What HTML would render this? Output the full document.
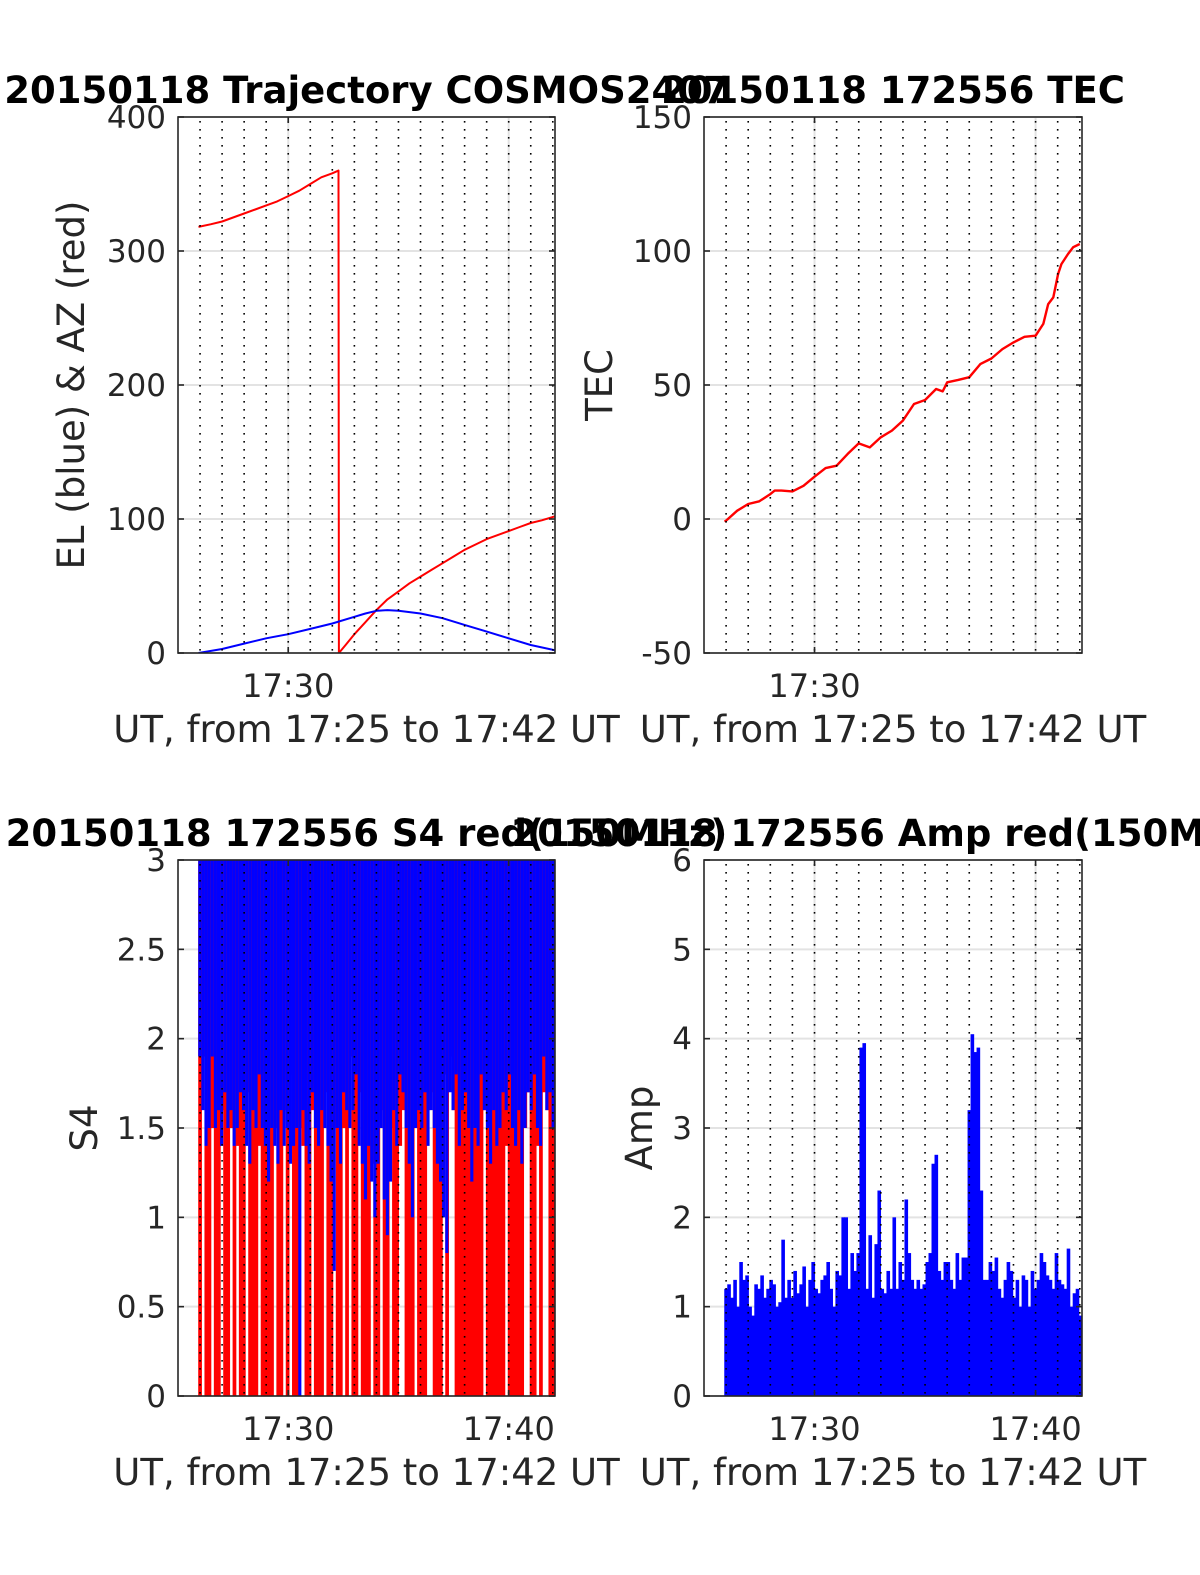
<!DOCTYPE html>
<html><head><meta charset="utf-8">
<style>
html,body{margin:0;padding:0;background:#fff;}
svg{display:block;font-family:"DejaVu Sans","Liberation Sans",sans-serif;}
</style></head>
<body>
<svg id="fig" width="1200" height="1575" viewBox="0 0 1200 1575" xmlns="http://www.w3.org/2000/svg">
<rect x="0" y="0" width="1200" height="1575" fill="#fff"/>
</svg>
<script>
// ---- data (time in minutes after 17:00) ----
const azT = [25.93,26.5,27,27.5,28,28.5,29,29.5,30,30.5,31,31.5,32,32.28,32.3,32.6,33,33.5,34,34.5,35,35.5,36,36.5,37,37.5,38,38.5,39,39.5,40,40.5,41,41.5,42.1];
const azV = [318,320,322,325,328,331,334,337,341,345,350,355,358,360,0,6,14,23,32,40,46,52,57,62,67,72,77,81,85,88,91,94,97,99,102];
const elT = [25.93,27,28,29,30,31,32,33,33.5,34,34.5,35,35.5,36,37,38,39,40,41,42.1];
const elV = [0,3,7,11,14,18,22,27,29.5,31.5,32,31.5,30.5,29.5,26,21,16,11,6,2];
const tecT = [25.93,26,26.5,27,27.5,28,28.2,28.5,29,29.5,30,30.5,31,31.5,32,32.5,33,33.5,34,34.5,35,35.5,35.8,36,36.5,37,37.5,38,38.5,39,39.5,40,40.35,40.57,40.8,41.02,41.17,41.47,41.7,42.0];
const tecV = [-1,-0.6,3.1,5.6,6.6,9.3,10.6,10.6,10.3,12.4,15.8,19,19.9,24.3,28.2,26.7,30.5,33,36.7,42.9,44.4,48.5,47.6,51,51.9,52.9,57.8,59.9,63.4,65.9,68,68.4,72.8,80.2,82.7,91.4,95.1,98.9,101.4,102.6];
const s4Start = 25.93, s4End = 42.1;
const s4Red = [0,1.9,0,0,1.5,0,0,1.6,0,0,1.5,0,1.4,0,0,1.7,0,0,0,1.4,0,0,0,0,1.5,0,0,1.6,0,1.8,0,0,1.5,1.4,0,0,1.6,0,0,0,1.7,0,0,1.5,0,0,1.5,0,1.9,0,0,1.7,0,0,0,1.3,0,0,1.6,0,0,1.5,0,0,1.4,1.6,0,0,0,1.5,0,0,0,1.6,1.7,0,0,0,1.8,0,1.9,1.6,0,0,0,0,0,0,0,0,0,1.6,0,0,0,0,0,0,1.4,0,0,0,0,0,1.5,1.7,0,0,1.4,0,1.7,1.6,0,0,0];
const s4Blue = [1.9,1.6,1.4,1.5,1.9,1.5,1.6,1.4,1.7,1.5,1.6,1.4,1.5,1.7,1.6,1.4,1.3,1.6,1.5,1.8,1.5,1.4,1.2,1.5,1.4,1.3,1.6,1.4,1.5,1.3,1.4,1.5,0.0,1.6,1.4,1.3,1.7,1.5,1.4,1.6,1.5,1.4,1.2,0.7,1.5,1.3,1.7,1.6,1.5,1.6,1.8,1.4,1.3,1.1,1.4,1.2,1.0,1.3,1.5,1.1,0.9,1.2,1.6,1.4,1.8,1.7,1.5,1.3,1.0,1.5,1.6,1.5,1.7,1.4,1.6,1.5,1.3,1.2,1.0,0.8,1.7,1.6,1.8,1.4,1.6,1.7,1.5,1.2,1.5,1.4,1.8,1.6,1.5,1.3,1.6,1.4,1.5,1.7,1.6,1.8,1.5,1.4,1.6,1.3,1.5,1.7,1.6,1.8,1.5,1.4,1.9,1.6,1.7,1.5,1.6];
const ampStart = 25.93, ampEnd = 42.1;
const ampV = [1.2,1.25,1.1,1.3,1.0,1.5,1.3,1.35,1.0,0.9,
1.25,1.2,1.35,1.1,1.2,1.3,1.25,1.0,1.05,1.75,
1.1,1.3,1.1,1.4,1.15,1.25,1.45,1.0,1.3,1.5,
1.2,1.15,1.3,1.35,1.5,1.2,1.0,1.4,1.35,2.0,
2.0,1.2,1.6,1.4,1.6,3.9,3.95,1.2,1.8,1.1,
1.7,2.3,1.2,1.15,1.4,1.2,2.0,1.2,1.5,1.3,
2.2,1.6,1.3,1.2,1.3,1.2,1.25,1.5,1.6,2.6,
2.7,1.4,1.3,1.5,1.5,1.3,1.2,1.6,1.3,1.55,
1.55,3.2,4.05,3.85,3.9,2.3,1.3,1.3,1.5,1.4,
1.55,1.2,1.1,1.3,1.5,1.4,1.1,1.3,1.0,1.35,
1.3,1.0,1.4,1.2,1.3,1.6,1.5,1.35,1.3,1.2,
1.6,1.3,1.25,1.2,1.65,1.0,1.15,1.2,0.9,1.35];
const xTicksTop = [30];
const xTickLabelsTop = ["17:30"];
const xTicksBot = [30,40];
const xTickLabelsBot = ["17:30","17:40"];

const NS = "http://www.w3.org/2000/svg";
const fig = document.getElementById('fig');
function el(tag, attrs, parent){
  const e = document.createElementNS(NS, tag);
  for (const k in attrs) e.setAttribute(k, attrs[k]);
  (parent||fig).appendChild(e);
  return e;
}
const T0 = 25.0, T1 = 42.1;

function makeAxes(o){
  const g = el('g', {});
  
  
  const X = t => o.x0 + (t - T0) / (T1 - T0) * (o.x1 - o.x0);
  const Y = v => o.y1 - (v - o.vmin) / (o.vmax - o.vmin) * (o.y1 - o.y0);
  const clipId = 'clip-' + o.name;
  const cp = el('clipPath', {id: clipId}, g);
  el('rect', {x:o.x0, y:o.y0, width:o.x1-o.x0, height:o.y1-o.y0}, cp);
  o.yTicks.forEach(v => {
    const l = el('line', {x1:o.x0, x2:o.x1, y1:Y(v), y2:Y(v), stroke:'#e3e3e3', 'stroke-width':2}, g);
    
    
  });
  [30,40].forEach(t => {
    const l = el('line', {x1:X(t), x2:X(t), y1:o.y0, y2:o.y1, stroke:'#e3e3e3', 'stroke-width':2}, g);
    
    
  });
  const plot = el('g', {'clip-path':'url(#'+clipId+')'}, g);
  
  
  o.draw(plot, X, Y);
  for (let m = 26; m <= 42; m++) {
    const l = el('line', {x1:X(m), x2:X(m), y1:o.y0+4, y2:o.y1, stroke:'#000', 'stroke-width':1.6, 'stroke-dasharray':'1.6 6.4'}, g);
    
    
  }
  const b = el('rect', {x:o.x0, y:o.y0, width:o.x1-o.x0, height:o.y1-o.y0, fill:'none', stroke:'#262626', 'stroke-width':1.6}, g);
  
  
  o.yTicks.forEach((v,i) => {
    el('line', {x1:o.x0, x2:o.x0+6, y1:Y(v), y2:Y(v), stroke:'#262626', 'stroke-width':1.6}, g);
    el('line', {x1:o.x1, x2:o.x1-6, y1:Y(v), y2:Y(v), stroke:'#262626', 'stroke-width':1.6}, g);
    const t = el('text', {x:o.x0-12, y:Y(v)+11, 'text-anchor':'end', 'font-size':31, fill:'#262626'}, g);
    t.textContent = o.yLabels[i];
    
    
  });
  o.xTicks.forEach((tm,i) => {
    el('line', {x1:X(tm), x2:X(tm), y1:o.y1, y2:o.y1-6, stroke:'#262626', 'stroke-width':1.6}, g);
    el('line', {x1:X(tm), x2:X(tm), y1:o.y0, y2:o.y0+6, stroke:'#262626', 'stroke-width':1.6}, g);
    const t = el('text', {x:X(tm), y:o.y1+44, 'text-anchor':'middle', 'font-size':32, fill:'#262626'}, g);
    t.textContent = o.xLabels[i];
    
    
  });
  const xl = el('text', {x:(o.x0+o.x1)/2, y:o.y1+89, 'text-anchor':'middle', 'font-size':37, fill:'#262626'}, g);
  xl.textContent = 'UT, from 17:25 to 17:42 UT';
  
  
  const cy = (o.y0+o.y1)/2;
  const yl = el('text', {x:o.ylx, y:cy, 'text-anchor':'middle', 'font-size':37, fill:'#262626', transform:'rotate(-90 '+o.ylx+' '+cy+')'}, g);
  yl.textContent = o.ylabel;
  
  
  const tt = el('text', {x:(o.x0+o.x1)/2, y:o.y0-14, 'text-anchor':'middle', 'font-size':37, 'font-weight':'bold', fill:'#000'});
  tt.textContent = o.title;
  
  
}

function polyline(parent, X, Y, ts, vs, color, w, name){
  const pts = ts.map((t,i) => X(t).toFixed(1)+','+Y(vs[i]).toFixed(1)).join(' ');
  const p = el('polyline', {points:pts, fill:'none', stroke:color, 'stroke-width':w, 'stroke-linejoin':'round'}, parent);
  
  
}

function bars(parent, X, Y, start, end, vals, top, color, name, frac){
  const n = vals.length;
  const dt = (end - start) / (n - 1);
  vals.forEach((v,i) => {
    const xa = X(start + i*dt), xb = X(start + (i+1)*dt);
    const w = (xb - xa) * frac;
    const yt = top === null ? Y(v) : Y(top);
    const yb = top === null ? Y(0) : Y(v);
    const r = el('rect', {x:xa-0.3, y:Math.min(yt,yb), width:Math.max(1,w+0.6), height:Math.abs(yb-yt), fill:color}, parent);
    
    
  });
}

makeAxes({name:'trajectory-axes', x0:178, x1:555, y0:117, y1:653, vmin:0, vmax:400,
  yTicks:[0,100,200,300,400], yLabels:['0','100','200','300','400'],
  xTicks:xTicksTop, xLabels:xTickLabelsTop, ylabel:'EL (blue) & AZ (red)', ylx:84,
  title:'20150118 Trajectory COSMOS2407',
  draw:(p,X,Y)=>{ polyline(p,X,Y,azT,azV,'#ff0000',2,'azimuth-line'); polyline(p,X,Y,elT,elV,'#0000ff',2,'elevation-line'); }});

makeAxes({name:'tec-axes', x0:704, x1:1082, y0:117, y1:653, vmin:-50, vmax:150,
  yTicks:[-50,0,50,100,150], yLabels:['-50','0','50','100','150'],
  xTicks:xTicksTop, xLabels:xTickLabelsTop, ylabel:'TEC', ylx:612,
  title:'20150118 172556 TEC',
  draw:(p,X,Y)=>{ polyline(p,X,Y,tecT,tecV,'#ff0000',2.4,'tec-line'); }});

makeAxes({name:'s4-axes', x0:178, x1:555, y0:860, y1:1396, vmin:0, vmax:3,
  yTicks:[0,0.5,1,1.5,2,2.5,3], yLabels:['0','0.5','1','1.5','2','2.5','3'],
  xTicks:xTicksBot, xLabels:xTickLabelsBot, ylabel:'S4', ylx:97,
  title:'20150118 172556 S4 red(150MHz)',
  draw:(p,X,Y)=>{ bars(p,X,Y,s4Start,s4End,s4Red,3.2,'#ff0000','s4-red-bar',1); bars(p,X,Y,s4Start,s4End,s4Blue,3.2,'#0000ff','s4-blue-bar',0.8); }});

makeAxes({name:'amp-axes', x0:704, x1:1082, y0:860, y1:1396, vmin:0, vmax:6,
  yTicks:[0,1,2,3,4,5,6], yLabels:['0','1','2','3','4','5','6'],
  xTicks:xTicksBot, xLabels:xTickLabelsBot, ylabel:'Amp', ylx:652,
  title:'20150118 172556 Amp red(150MHz)',
  draw:(p,X,Y)=>{ bars(p,X,Y,ampStart,ampEnd,ampV,null,'#0000ff','amp-bar',1); }});
</script>
</body></html>
